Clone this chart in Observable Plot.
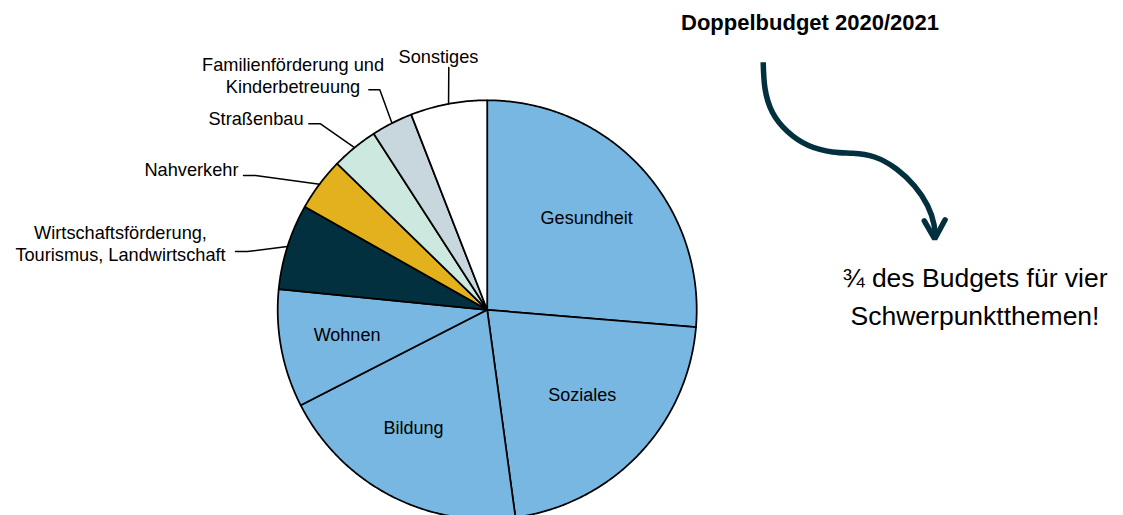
<!DOCTYPE html>
<html>
<head>
<meta charset="utf-8">
<script src="https://cdn.jsdelivr.net/npm/d3@7"></script>
<script src="https://cdn.jsdelivr.net/npm/@observablehq/plot@0.6"></script>
<style>
  html, body { margin: 0; padding: 0; background: #ffffff; }
  #chart svg { display: block; font-family: "Liberation Sans", Arial, sans-serif; }
</style>
</head>
<body>
<div id="chart"></div>
<script>
// ---- data (clockwise from 12 o'clock), share of budget in % ----
const categories = [
  "Gesundheit", "Soziales", "Bildung", "Wohnen",
  "Wirtschaftsförderung,\nTourismus, Landwirtschaft",
  "Nahverkehr", "Straßenbau", "Familienförderung und\nKinderbetreuung", "Sonstiges"
];
const shares = [26.3, 21.5, 19.6, 9.1, 6.6, 4.1, 3.6, 3.2, 5.9];
const sliceColors = ["#78b7e1", "#78b7e1", "#78b7e1", "#78b7e1", "#03303e", "#e3b11e", "#cce8df", "#c8d6dd", "#ffffff"];
const insideLabels = ["Gesundheit", "Soziales", "Bildung", "Wohnen"];

const titleText = "Doppelbudget 2020/2021";
const noteLines = ["¾ des Budgets für vier", "Schwerpunktthemen!"];

// ---- layout (pixels) ----
const W = 1123, H = 515;
const CX = 486.7, CY = 309.3, R = 209.5;
// inside label placement: radius factor and angle shift (degrees) relative to slice middle
const insideLayout = {
  "Gesundheit": {r: 0.645, da: 0},
  "Soziales": {r: 0.61, da: -1.5},
  "Bildung": {r: 0.667, da: 4.3},
  "Wohnen": {r: 0.68, da: 0.4}
};
// outer label placement: text anchor point and leader elbow, per category
const outerLayout = {
  "Wirtschaftsförderung,\nTourismus, Landwirtschaft": {tx: 120, ty: 232, anchor: "middle", elbow: [247, 251], start: [235, 251]},
  "Nahverkehr": {tx: 238, ty: 168, anchor: "end", elbow: [255, 175], start: [243, 175]},
  "Straßenbau": {tx: 303, ty: 117.5, anchor: "end", elbow: [320, 123.3], start: [308.3, 123.3]},
  "Familienförderung und\nKinderbetreuung": {tx: 292.5, ty: 63.5, anchor: "middle", elbow: [379.3, 89.3], start: [368.3, 89.3]},
  "Sonstiges": {tx: 438, ty: 55.5, anchor: "middle", elbow: [448.3, 67], start: [448.3, 67]}
};
const arrowPath = [
  [762.7, 61.7], [764.5, 88], [772, 112], [787, 131], [808, 145], [832, 151.5],
  [852, 152.8], [874, 156.5], [896, 168.5], [914, 185.5], [927, 205], [933.5, 224], [934.5, 237]
];
const arrowHead = [[923.8, 220.3], [934.2, 238.5], [944.6, 219.3]];

// ---- geometry from data ----
const pie = d3.pie().sort(null).value(d => d.share)(categories.map((c, i) => ({cat: c, share: shares[i], color: sliceColors[i]})));
const polar = (a, r) => [CX + r * Math.sin(a), CY - r * Math.cos(a)];

const slicePts = [];
pie.forEach(p => {
  slicePts.push({cat: p.data.cat, color: p.data.color, x: CX, y: CY});
  const n = Math.max(2, Math.ceil((p.endAngle - p.startAngle) / (Math.PI / 360)));
  for (let k = 0; k <= n; k++) {
    const a = p.startAngle + (p.endAngle - p.startAngle) * k / n;
    const [x, y] = polar(a, R);
    slicePts.push({cat: p.data.cat, color: p.data.color, x, y});
  }
});

const inside = pie.filter(p => insideLabels.includes(p.data.cat)).map(p => {
  const L = insideLayout[p.data.cat];
  const [x, y] = polar((p.startAngle + p.endAngle) / 2 + L.da * Math.PI / 180, R * L.r);
  return {label: p.data.cat, x, y};
});

const leaderPts = [];
const outsideText = [];
pie.forEach(p => {
  const L = outerLayout[p.data.cat];
  if (!L) return;
  const [ex, ey] = polar((p.startAngle + p.endAngle) / 2, R);
  leaderPts.push({cat: p.data.cat, x: L.start[0], y: L.start[1]});
  leaderPts.push({cat: p.data.cat, x: L.elbow[0], y: L.elbow[1]});
  leaderPts.push({cat: p.data.cat, x: ex, y: ey});
  outsideText.push({label: p.data.cat, x: L.tx, y: L.ty, anchor: L.anchor});
});

const arrowData = arrowPath.map(([x, y]) => ({x, y}));
const headData = arrowHead.map(([x, y]) => ({x, y}));

const chart = Plot.plot({
  width: W, height: H,
  margin: 0,
  x: {domain: [0, W], range: [0, W], axis: null},
  y: {domain: [0, H], range: [0, H], axis: null},
  color: {type: "identity"},
  style: {fontFamily: "'Liberation Sans', Arial, sans-serif", background: "#ffffff", overflow: "hidden"},
  marks: [
    Plot.line(slicePts, {x: "x", y: "y", z: "cat", fill: "color", stroke: "#000000", strokeWidth: 1.75, strokeLinejoin: "round", curve: "linear-closed"}),
    Plot.line(leaderPts, {x: "x", y: "y", z: "cat", stroke: "#000000", strokeWidth: 1.5, curve: "linear"}),
    Plot.text(inside, {x: "x", y: "y", text: "label", fontSize: 18, fill: "#000000"}),
    Plot.text(outsideText.filter(d => d.anchor === "end"), {x: "x", y: "y", text: "label", fontSize: 18.2, fill: "#000000", textAnchor: "end", lineHeight: 1.22}),
    Plot.text(outsideText.filter(d => d.anchor === "middle"), {x: "x", y: "y", text: "label", fontSize: 18.2, fill: "#000000", textAnchor: "middle", lineAnchor: "top", dy: -9, lineHeight: 1.22}),
    Plot.text([titleText], {x: () => 809.5, y: () => 22, text: d => d, fontSize: 22, fontWeight: "bold", fill: "#000000"}),
    Plot.text([noteLines.join("\n")], {x: () => 974.5, y: () => 293, text: d => d, fontSize: 26.5, fill: "#000000", lineAnchor: "middle", lineHeight: 1.45}),
    Plot.line(arrowData, {x: "x", y: "y", stroke: "#03303e", strokeWidth: 5.5, curve: "natural", strokeLinecap: "butt"}),
    Plot.line(headData, {x: "x", y: "y", stroke: "#03303e", strokeWidth: 5.5, strokeLinecap: "round", strokeLinejoin: "miter"})
  ]
});
document.getElementById("chart").appendChild(chart);
</script>
</body>
</html>
